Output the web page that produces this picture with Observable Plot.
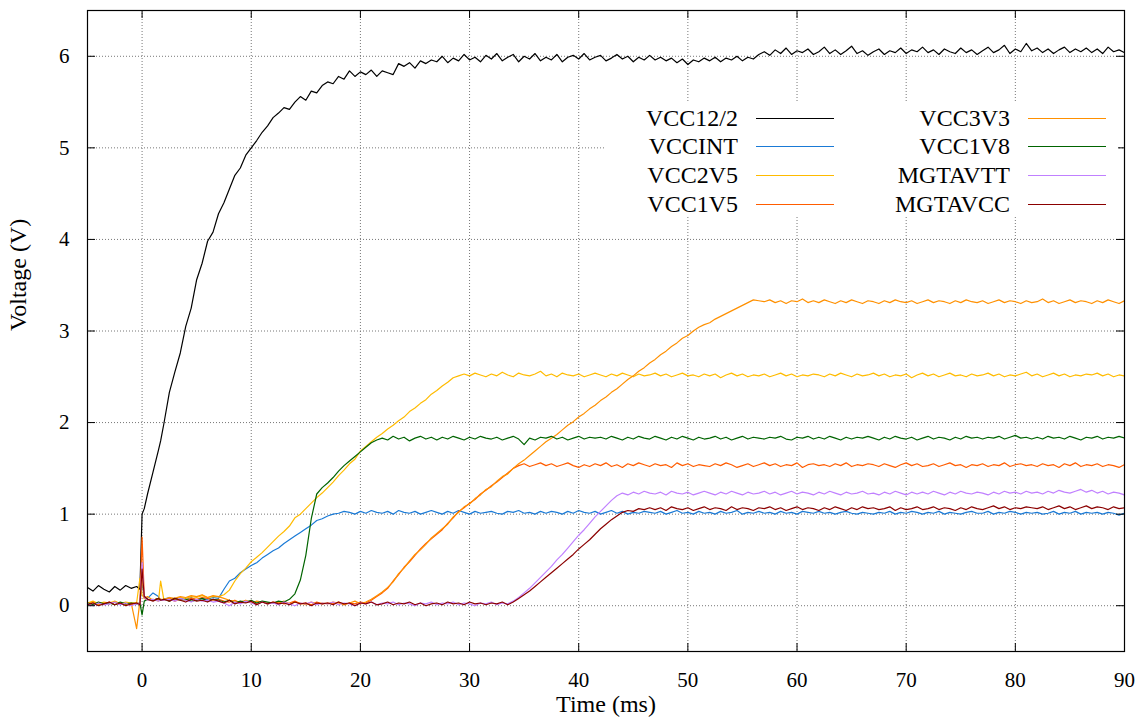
<!DOCTYPE html>
<html><head><meta charset="utf-8">
<script src="https://cdn.jsdelivr.net/npm/d3@7"></script>
<script src="https://cdn.jsdelivr.net/npm/@observablehq/plot@0.6"></script>
<style>
body{margin:0;background:#fff}
#wrap{position:relative;width:1138px;height:722px;font-family:'Liberation Serif'}
#legend{position:absolute;left:605px;top:101px;width:513px;height:116px;background:#fff}
.lt{position:absolute;text-align:right;font-family:'Liberation Serif';font-size:24px;line-height:24px;color:#000;white-space:nowrap}
.ll{position:absolute;width:78px;height:1.4px}
#warn{position:absolute;left:300px;top:300px;color:red;font-size:20px}
</style></head><body><div id="wrap"></div>
<script>
// sample times (ms)
const time = [
-5,-4.5,-4,-3.5,-3,-2.5,-2,-1.5,-1,-0.5,
-0.2,0,0.2,0.5,1,1.5,1.7,
2,2.5,3,3.5,4,4.5,5,5.5,6,6.5,
7,7.5,8,8.5,9,9.5,10,10.5,11,11.5,
12,12.5,13,13.5,14,14.5,15,15.5,16,16.5,
17,17.5,18,18.5,19,19.5,20,20.5,21,21.5,
22,22.5,23,23.5,24,24.5,25,25.5,26,26.5,
27,27.5,28,28.5,29,29.5,30,30.5,31,31.5,
32,32.5,33,33.5,34,34.5,35,35.5,36,36.5,
37,37.5,38,38.5,39,39.5,40,40.5,41,41.5,
42,42.5,43,43.5,44,44.5,45,45.5,46,46.5,
47,47.5,48,48.5,49,49.5,50,50.5,51,51.5,
52,52.5,53,53.5,54,54.5,55,55.5,56,56.5,
57,57.5,58,58.5,59,59.5,60,60.5,61,61.5,
62,62.5,63,63.5,64,64.5,65,65.5,66,66.5,
67,67.5,68,68.5,69,69.5,70,70.5,71,71.5,
72,72.5,73,73.5,74,74.5,75,75.5,76,76.5,
77,77.5,78,78.5,79,79.5,80,80.5,81,81.5,
82,82.5,83,83.5,84,84.5,85,85.5,86,86.5,
87,87.5,88,88.5,89,89.5,90];

const vcc12half = [
0.20,0.16,0.22,0.18,0.15,0.21,0.17,0.22,0.19,0.21,
0.18,1.00,1.06,1.22,1.46,1.70,1.80,
1.99,2.33,2.55,2.76,3.05,3.25,3.56,3.74,3.98,4.08,
4.28,4.40,4.55,4.70,4.78,4.92,5.00,5.08,5.17,5.24,
5.33,5.38,5.44,5.42,5.50,5.56,5.52,5.62,5.60,5.68,
5.72,5.70,5.78,5.75,5.84,5.78,5.83,5.80,5.85,5.78,
5.84,5.82,5.80,5.92,5.89,5.93,5.87,5.95,5.92,5.96,
5.94,6.00,5.93,5.98,5.95,6.02,5.96,5.99,5.94,6.01,
5.97,6.03,5.95,5.99,6.02,5.94,6.00,5.97,6.03,5.95,
5.99,5.96,6.02,5.94,5.99,6.01,5.97,6.03,5.96,5.99,
6.01,5.95,5.98,6.02,5.97,6.00,5.94,5.99,5.96,6.01,
5.96,5.99,5.95,5.98,5.93,5.97,5.91,5.96,5.94,5.98,
5.95,5.99,5.94,5.98,5.96,6.00,5.95,5.99,5.97,6.02,
6.05,6.01,6.07,6.03,6.09,6.02,6.06,6.04,6.08,6.02,
6.05,6.10,6.03,6.07,6.02,6.06,6.11,6.03,6.06,6.01,
6.05,6.08,6.02,6.06,6.04,6.09,6.03,6.07,6.05,6.10,
6.04,6.07,6.02,6.08,6.05,6.03,6.09,6.04,6.07,6.02,
6.06,6.10,6.04,6.07,6.12,6.03,6.08,6.05,6.14,6.06,
6.09,6.04,6.08,6.03,6.07,6.10,6.04,6.08,6.05,6.09,
6.04,6.08,6.03,6.10,6.05,6.07,6.04];

const vccint = [
0.02,0.04,0.01,0.03,0.02,0.04,0.01,0.03,0.02,0.03,
0.02,0.25,0.10,0.08,0.14,0.10,0.06,
0.07,0.09,0.06,0.08,0.07,0.09,0.06,0.08,0.07,0.09,
0.08,0.18,0.27,0.30,0.36,0.40,0.44,0.47,0.52,0.56,
0.60,0.63,0.68,0.72,0.76,0.80,0.84,0.88,0.93,0.95,
0.98,1.00,1.01,1.03,1.02,1.00,1.03,1.01,1.04,1.02,
1.01,1.03,1.00,1.04,1.02,1.01,1.03,1.00,1.02,1.04,
1.02,1.00,1.03,1.01,1.04,1.02,1.00,1.03,1.01,1.02,
1.03,1.01,1.00,1.03,1.02,1.04,1.01,1.02,1.00,1.03,
1.01,1.03,1.02,1.00,1.03,1.01,1.04,1.02,1.01,1.03,
1.00,1.02,1.04,1.01,1.03,1.00,1.02,1.01,1.03,1.02,
1.01,1.03,1.00,1.02,1.04,1.01,1.02,1.00,1.03,1.01,
1.02,1.00,1.03,1.01,1.02,1.04,1.00,1.02,1.01,1.03,
1.01,1.02,1.00,1.03,1.01,1.02,1.00,1.03,1.02,1.01,
1.03,1.01,1.02,1.00,1.02,1.03,1.01,1.00,1.02,1.01,
1.00,1.02,1.01,1.03,1.00,1.02,1.01,1.03,1.02,1.00,
1.02,1.01,1.03,1.00,1.02,1.01,1.00,1.02,1.03,1.01,
1.01,1.03,1.00,1.02,1.01,1.03,1.02,1.00,1.02,1.01,
1.02,1.00,1.01,1.03,1.00,1.02,1.01,1.03,1.00,1.02,
1.01,1.02,1.00,1.02,1.01,0.99,1.01];

const vcc2v5 = [
0.03,0.05,0.02,0.04,0.03,0.05,0.02,0.04,0.03,0.03,
0.30,0.12,0.08,0.06,0.07,0.05,0.27,
0.06,0.08,0.07,0.09,0.08,0.10,0.09,0.11,0.09,0.10,
0.10,0.12,0.17,0.27,0.35,0.41,0.48,0.53,0.58,0.64,
0.70,0.76,0.81,0.87,0.96,1.00,1.06,1.12,1.18,1.23,
1.29,1.35,1.42,1.48,1.55,1.60,1.69,1.74,1.79,1.84,
1.88,1.93,1.97,2.02,2.06,2.12,2.16,2.21,2.25,2.31,
2.35,2.40,2.44,2.49,2.51,2.53,2.51,2.54,2.52,2.50,
2.53,2.51,2.55,2.52,2.50,2.54,2.52,2.51,2.53,2.56,
2.51,2.53,2.50,2.54,2.52,2.51,2.53,2.50,2.52,2.54,
2.52,2.50,2.53,2.51,2.54,2.52,2.50,2.53,2.51,2.52,
2.54,2.51,2.53,2.50,2.52,2.54,2.51,2.52,2.50,2.53,
2.51,2.53,2.49,2.52,2.54,2.51,2.53,2.50,2.52,2.51,
2.53,2.50,2.52,2.54,2.51,2.53,2.50,2.52,2.51,2.53,
2.52,2.50,2.53,2.51,2.54,2.52,2.50,2.53,2.51,2.52,
2.54,2.51,2.53,2.50,2.52,2.51,2.53,2.49,2.52,2.54,
2.51,2.53,2.50,2.52,2.54,2.51,2.52,2.50,2.53,2.51,
2.52,2.54,2.51,2.53,2.50,2.52,2.51,2.53,2.55,2.51,
2.53,2.50,2.52,2.54,2.51,2.53,2.50,2.52,2.51,2.53,
2.52,2.54,2.51,2.53,2.50,2.52,2.51];

const vcc1v5 = [
0.02,0.01,0.03,0.02,0.04,0.01,0.03,0.02,0.01,0.03,
0.02,0.75,0.10,0.07,0.06,0.08,0.07,
0.06,0.08,0.05,0.07,0.06,0.08,0.07,0.09,0.08,0.06,
0.07,0.05,0.04,0.06,0.03,0.05,0.04,0.02,0.04,0.03,
0.03,0.04,0.02,0.03,0.05,0.02,0.03,0.01,0.04,0.02,
0.03,0.02,0.04,0.01,0.03,0.02,0.04,0.03,0.06,0.10,
0.14,0.19,0.27,0.34,0.42,0.48,0.55,0.62,0.68,0.73,
0.78,0.83,0.90,0.96,1.03,1.07,1.12,1.16,1.22,1.26,
1.31,1.35,1.40,1.45,1.50,1.53,1.55,1.52,1.54,1.56,
1.53,1.55,1.52,1.54,1.56,1.53,1.51,1.54,1.52,1.55,
1.53,1.56,1.52,1.54,1.51,1.55,1.53,1.56,1.54,1.52,
1.55,1.53,1.54,1.51,1.56,1.53,1.55,1.52,1.54,1.53,
1.52,1.55,1.53,1.56,1.54,1.51,1.53,1.55,1.52,1.54,
1.56,1.53,1.55,1.52,1.54,1.53,1.56,1.51,1.54,1.55,
1.53,1.54,1.52,1.55,1.53,1.56,1.52,1.54,1.53,1.55,
1.54,1.52,1.55,1.53,1.51,1.54,1.56,1.53,1.55,1.52,
1.53,1.55,1.52,1.54,1.56,1.53,1.54,1.51,1.54,1.53,
1.55,1.52,1.54,1.53,1.56,1.52,1.54,1.55,1.53,1.54,
1.52,1.55,1.53,1.54,1.51,1.55,1.53,1.56,1.52,1.54,
1.53,1.55,1.52,1.54,1.53,1.51,1.54];

const vcc3v3 = [
0.02,0.04,0.01,0.03,0.02,0.04,0.03,0.01,0.03,-0.25,
0.05,0.30,0.08,0.10,0.06,0.08,0.07,
0.07,0.09,0.08,0.10,0.09,0.11,0.10,0.12,0.09,0.11,
0.10,0.08,0.06,0.05,0.04,0.06,0.03,0.05,0.04,0.02,
0.04,0.03,0.05,0.02,0.04,0.03,0.01,0.04,0.02,0.03,
0.02,0.04,0.03,0.01,0.03,0.05,0.02,0.04,0.07,0.11,
0.15,0.20,0.26,0.35,0.41,0.49,0.56,0.61,0.67,0.74,
0.79,0.84,0.89,0.97,1.02,1.08,1.11,1.17,1.21,1.27,
1.30,1.36,1.41,1.44,1.50,1.55,1.59,1.64,1.69,1.74,
1.79,1.83,1.87,1.92,1.97,2.01,2.06,2.10,2.15,2.19,
2.24,2.28,2.33,2.37,2.42,2.47,2.51,2.56,2.60,2.65,
2.69,2.74,2.78,2.83,2.87,2.92,2.95,3.00,3.04,3.07,
3.09,3.13,3.16,3.19,3.22,3.25,3.28,3.31,3.34,3.33,
3.32,3.34,3.31,3.33,3.30,3.33,3.32,3.35,3.31,3.33,
3.31,3.34,3.32,3.30,3.33,3.31,3.34,3.32,3.30,3.33,
3.32,3.30,3.33,3.31,3.34,3.32,3.31,3.33,3.30,3.32,
3.34,3.31,3.33,3.32,3.30,3.33,3.31,3.34,3.32,3.31,
3.33,3.30,3.32,3.34,3.31,3.33,3.32,3.30,3.33,3.31,
3.32,3.35,3.31,3.33,3.30,3.32,3.34,3.31,3.33,3.32,
3.30,3.33,3.31,3.34,3.32,3.30,3.33];

const vcc1v8 = [
0.03,0.01,0.04,0.02,0.03,0.01,0.04,0.02,0.03,0.02,
0.03,-0.10,0.05,0.07,0.06,0.08,0.06,
0.07,0.05,0.08,0.06,0.07,0.05,0.06,0.08,0.05,0.07,
0.06,0.04,0.06,0.03,0.05,0.04,0.06,0.03,0.05,0.04,
0.03,0.05,0.04,0.07,0.13,0.28,0.55,0.95,1.22,1.29,
1.34,1.40,1.47,1.53,1.58,1.63,1.68,1.73,1.78,1.81,
1.83,1.81,1.85,1.82,1.84,1.80,1.83,1.85,1.82,1.84,
1.81,1.84,1.82,1.85,1.83,1.81,1.84,1.82,1.85,1.83,
1.82,1.84,1.81,1.83,1.85,1.82,1.76,1.83,1.81,1.84,
1.83,1.85,1.82,1.84,1.81,1.83,1.85,1.82,1.84,1.83,
1.84,1.82,1.85,1.83,1.81,1.84,1.82,1.85,1.83,1.82,
1.85,1.83,1.81,1.84,1.82,1.85,1.83,1.81,1.84,1.82,
1.83,1.85,1.82,1.84,1.81,1.83,1.85,1.82,1.84,1.83,
1.82,1.84,1.83,1.85,1.82,1.81,1.84,1.83,1.85,1.82,
1.84,1.82,1.85,1.83,1.81,1.84,1.82,1.84,1.83,1.85,
1.83,1.81,1.84,1.82,1.85,1.83,1.82,1.84,1.81,1.83,
1.85,1.82,1.84,1.83,1.81,1.84,1.82,1.85,1.83,1.84,
1.82,1.84,1.83,1.85,1.82,1.84,1.86,1.83,1.84,1.82,
1.84,1.82,1.85,1.83,1.84,1.82,1.85,1.83,1.81,1.84,
1.83,1.85,1.82,1.84,1.83,1.85,1.83];

const mgtavtt = [
0.02,0.00,0.03,0.01,0.02,0.04,0.01,0.03,0.00,0.02,
0.02,0.47,0.09,0.06,0.07,0.05,0.06,
0.06,0.07,0.05,0.08,0.06,0.04,0.07,0.05,0.06,0.04,
0.05,0.03,0.00,0.04,0.02,0.05,0.03,0.01,0.04,0.02,
0.03,0.01,0.04,0.02,0.00,0.03,0.02,0.04,0.01,0.03,
0.02,0.04,0.01,0.03,0.02,0.00,0.03,0.02,0.04,0.01,
0.03,0.02,0.04,0.01,0.03,0.02,0.00,0.03,0.02,0.04,
0.01,0.03,0.02,0.04,0.01,0.03,0.02,0.00,0.03,0.02,
0.04,0.01,0.03,0.02,0.05,0.09,0.14,0.19,0.25,0.31,
0.37,0.43,0.50,0.56,0.63,0.70,0.77,0.83,0.90,0.97,
1.03,1.09,1.15,1.20,1.23,1.21,1.24,1.22,1.25,1.23,
1.22,1.24,1.21,1.25,1.23,1.22,1.24,1.21,1.23,1.25,
1.23,1.21,1.24,1.22,1.25,1.23,1.21,1.24,1.22,1.23,
1.25,1.22,1.24,1.21,1.23,1.25,1.22,1.24,1.23,1.21,
1.24,1.22,1.25,1.23,1.21,1.24,1.22,1.23,1.25,1.22,
1.23,1.21,1.24,1.22,1.25,1.23,1.21,1.24,1.22,1.24,
1.22,1.25,1.23,1.21,1.24,1.22,1.25,1.23,1.22,1.24,
1.23,1.21,1.24,1.22,1.25,1.23,1.24,1.22,1.25,1.23,
1.24,1.22,1.25,1.23,1.26,1.24,1.23,1.25,1.27,1.24,
1.26,1.23,1.25,1.22,1.24,1.23,1.21];

const mgtavcc = [
0.01,0.03,0.00,0.02,0.04,0.01,0.03,0.00,0.02,0.03,
0.01,0.40,0.10,0.07,0.05,0.08,0.06,
0.07,0.05,0.08,0.06,0.04,0.07,0.05,0.06,0.04,0.07,
0.05,0.03,0.06,0.02,0.04,0.03,0.05,0.01,0.04,0.02,
0.04,0.02,0.03,0.01,0.04,0.02,0.03,0.00,0.03,0.02,
0.03,0.01,0.04,0.02,0.03,0.00,0.03,0.02,0.04,0.01,
0.02,0.04,0.01,0.03,0.02,0.04,0.01,0.03,0.00,0.02,
0.03,0.01,0.04,0.02,0.03,0.01,0.04,0.02,0.03,0.01,
0.03,0.02,0.04,0.01,0.04,0.08,0.12,0.16,0.21,0.26,
0.31,0.36,0.41,0.46,0.51,0.56,0.62,0.67,0.72,0.78,
0.84,0.89,0.94,0.98,1.02,1.04,1.03,1.06,1.05,1.07,
1.05,1.07,1.04,1.08,1.06,1.05,1.07,1.04,1.06,1.08,
1.05,1.07,1.06,1.04,1.08,1.05,1.07,1.06,1.04,1.07,
1.06,1.08,1.05,1.07,1.04,1.06,1.08,1.05,1.07,1.06,
1.04,1.07,1.05,1.08,1.06,1.04,1.07,1.05,1.08,1.06,
1.07,1.05,1.06,1.08,1.04,1.07,1.05,1.06,1.08,1.05,
1.06,1.08,1.05,1.07,1.06,1.04,1.07,1.05,1.08,1.06,
1.05,1.07,1.09,1.06,1.08,1.05,1.07,1.06,1.08,1.07,
1.06,1.08,1.05,1.07,1.09,1.06,1.08,1.05,1.07,1.09,
1.06,1.08,1.07,1.05,1.08,1.06,1.07];

const seriesNames = ["VCC12/2","VCCINT","VCC2V5","VCC1V5","VCC3V3","VCC1V8","MGTAVTT","MGTAVCC"];
const seriesValues = [vcc12half, vccint, vcc2v5, vcc1v5, vcc3v3, vcc1v8, mgtavtt, mgtavcc];
const seriesColors = ["#000000","#1a7ad6","#ffbb00","#ff5c00","#ff9000","#006400","#c080ff","#8b0000"];
const xTicks = [0,10,20,30,40,50,60,70,80,90];
const yTicks = [0,1,2,3,4,5,6];

const W=1138,H=722,ML=87,MR=14,MT=10,MB=71;
const xDomain=[-5,90], yDomain=[-0.5,6.5];
const tx = 8*(xDomain[1]-xDomain[0])/(W-ML-MR);
const ty = 8*(yDomain[1]-yDomain[0])/(H-MT-MB);
const FONT="Liberation Serif";

const wrap = document.getElementById("wrap");
const bad = seriesValues.map((v,i)=>v.length!==time.length?seriesNames[i]+":"+v.length:null).filter(Boolean);

const rows = [];
seriesValues.forEach((vals,si)=>{
  vals.forEach((v,i)=>rows.push({series: seriesNames[si], t: time[i], v}));
});

const lineMarks = seriesNames.map((name,si)=>Plot.line(rows.filter(r=>r.series===name),
  {x:"t", y:"v", stroke: seriesColors[si], strokeWidth: 1.2, curve:"linear"}));

const gridStyle = {stroke:"#777", strokeOpacity:1, strokeWidth:1, strokeDasharray:"1,2"};

const chart = Plot.plot({
  width: W, height: H,
  marginLeft: ML, marginRight: MR, marginTop: MT, marginBottom: MB,
  style: {fontFamily: FONT, fontSize: "21px", background: "#fff", color: "#000"},
  x: {domain: xDomain, axis: null},
  y: {domain: yDomain, axis: null},
  clip: true,
  marks: [
    Plot.gridX(xTicks, gridStyle),
    Plot.gridY(yTicks, gridStyle),
    ...lineMarks,
    Plot.ruleX(xTicks, {x: d=>d, y1: yDomain[0], y2: yDomain[0]+ty, stroke:"#000", clip:false}),
    Plot.ruleX(xTicks, {x: d=>d, y1: yDomain[1], y2: yDomain[1]-ty, stroke:"#000", clip:false}),
    Plot.ruleY(yTicks, {y: d=>d, x1: xDomain[0], x2: xDomain[0]+tx, stroke:"#000", clip:false}),
    Plot.ruleY(yTicks, {y: d=>d, x1: xDomain[1], x2: xDomain[1]-tx, stroke:"#000", clip:false}),
    Plot.frame({stroke:"#000", strokeWidth:1.2}),
    Plot.axisX(xTicks, {tickSize:0, tickPadding:21, fontSize:21, label:null, tickFormat: d=>String(d), fontFamily: FONT}),
    Plot.axisY(yTicks, {tickSize:0, tickPadding:18, fontSize:21, label:null, tickFormat: d=>String(d), fontFamily: FONT}),
    Plot.text(["Time (ms)"], {frameAnchor:"bottom", dy:60, fontSize:24, text:d=>d, clip:false, fontFamily: FONT}),
    Plot.text(["Voltage (V)"], {frameAnchor:"left", dx:-69, rotate:-90, fontSize:24, text:d=>d, clip:false, fontFamily: FONT})
  ]
});
wrap.appendChild(chart);

// key (legend), two columns filled top-down
const legend = document.createElement("div");
legend.id = "legend";
const rowCenters = [17,45,74,103];
seriesNames.forEach((name,i)=>{
  const col = Math.floor(i/4), r = i%4;
  const textRight = col===0 ? 133 : 405;
  const lineLeft = col===0 ? 151 : 423;
  const t = document.createElement("div");
  t.className = "lt";
  t.textContent = name;
  t.style.right = (513 - textRight) + "px";
  t.style.top = (rowCenters[r]-12) + "px";
  legend.appendChild(t);
  const l = document.createElement("div");
  l.className = "ll";
  l.style.left = lineLeft + "px";
  l.style.top = (rowCenters[r]) + "px";
  l.style.background = seriesColors[i];
  legend.appendChild(l);
});
wrap.appendChild(legend);
if (bad.length) { const w=document.createElement("div"); w.id="warn"; w.textContent="LENGTH MISMATCH "+bad.join(" "); wrap.appendChild(w); }
</script></body></html>
